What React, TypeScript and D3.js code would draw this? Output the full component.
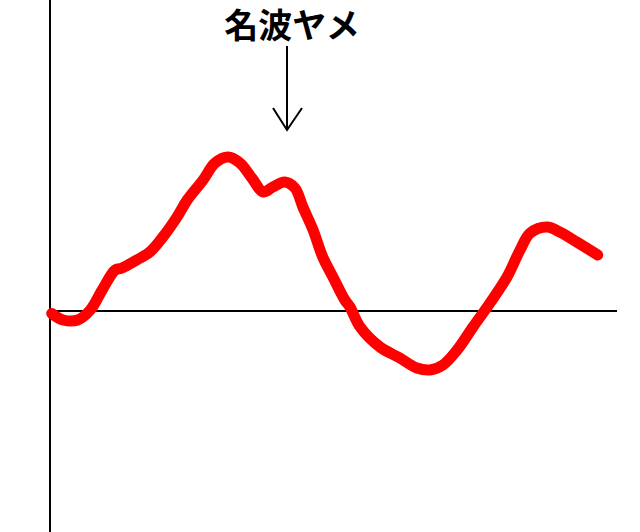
import React, { useEffect, useRef } from "react";
import * as d3 from "d3";

// hand-drawn style curve: t along x, value relative to the zero line
const tValues = [
  0.3, 2.3, 4.9, 7.1, 9.2, 11.5, 12.7, 15.3, 17.6, 19.9, 22.4, 24.2, 27.0, 29.1,
  31.4, 33.5, 35.6, 37.6, 39.3, 41.4, 43.2, 44.6, 46.4, 48.1, 49.9, 52.0, 52.9,
  54.7, 58.2, 61.7, 64.7, 67.0, 69.3, 71.8, 74.6, 77.6, 80.6, 82.9, 84.7, 87.7,
  89.9, 92.9, 96.6,
];
const vValues = [
  -0.05, -0.18, -0.18, 0.02, 0.42, 0.82, 0.86, 1.02, 1.18, 1.48, 1.88, 2.22,
  2.62, 2.96, 3.08, 2.96, 2.66, 2.38, 2.48, 2.58, 2.46, 2.08, 1.62, 1.08, 0.68,
  0.22, 0.08, -0.32, -0.72, -0.94, -1.14, -1.18, -1.08, -0.78, -0.32, 0.16,
  0.68, 1.22, 1.56, 1.68, 1.58, 1.38, 1.12,
];
const annotationLabel = "名波ヤメ";
const annotationT = 41.8;

const WIDTH = 640;
const HEIGHT = 532;

export default function App() {
  const ref = useRef<SVGSVGElement>(null);

  useEffect(() => {
    const svg = d3.select(ref.current);
    svg.selectAll("*").remove();

    const x = d3.scaleLinear().domain([0, 100]).range([50, 617]);
    const y = d3.scaleLinear().domain([-4.42, 6.22]).range([532, 0]);

    // axes
    svg
      .append("line")
      .attr("x1", x(0))
      .attr("x2", x(0))
      .attr("y1", 0)
      .attr("y2", HEIGHT)
      .attr("stroke", "#000")
      .attr("stroke-width", 2);
    svg
      .append("line")
      .attr("x1", x(0))
      .attr("x2", x(100))
      .attr("y1", y(0))
      .attr("y2", y(0))
      .attr("stroke", "#000")
      .attr("stroke-width", 2);

    const data = tValues.map((t, i) => ({ t, v: vValues[i] }));
    const line = d3
      .line<{ t: number; v: number }>()
      .x((d) => x(d.t))
      .y((d) => y(d.v))
      .curve(d3.curveCatmullRom.alpha(0.5));

    svg
      .append("path")
      .datum(data)
      .attr("d", line)
      .attr("fill", "none")
      .attr("stroke", "#ff0000")
      .attr("stroke-width", 11)
      .attr("stroke-linecap", "round")
      .attr("stroke-linejoin", "round");

    // annotation arrow
    const ax = x(annotationT);
    svg
      .append("line")
      .attr("x1", ax)
      .attr("x2", ax)
      .attr("y1", 46)
      .attr("y2", 130)
      .attr("stroke", "#000")
      .attr("stroke-width", 2);
    svg
      .append("path")
      .attr("d", `M${ax - 14},108 L${ax},130 L${ax + 15},108`)
      .attr("fill", "none")
      .attr("stroke", "#000")
      .attr("stroke-width", 2);

    svg
      .append("text")
      .attr("x", 292)
      .attr("y", 38)
      .attr("text-anchor", "middle")
      .style("font-family", "'Noto Sans CJK JP', sans-serif")
      .style("font-weight", "bold")
      .style("font-size", "34px")
      .text(annotationLabel);
  }, []);

  return (
    <svg
      ref={ref}
      width={WIDTH}
      height={HEIGHT}
      style={{ position: "fixed", left: 0, top: 0, background: "#fff" }}
    />
  );
}
